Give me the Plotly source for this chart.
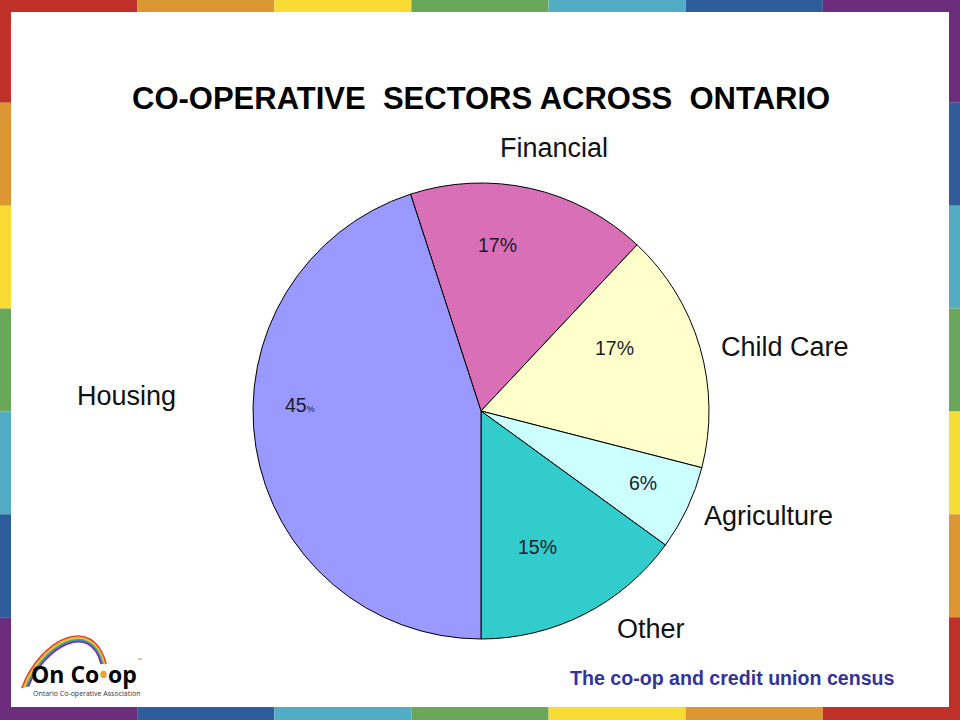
import plotly.graph_objects as go

# ---------------- data ----------------
sectors = ["Financial", "Child Care", "Agriculture", "Other", "Housing"]
shares = [17, 17, 6, 15, 45]
pct_labels = ["17%", "17%", "6%", "15%", "45<span style='font-size:9px'>%</span>"]
slice_colors = ["#D970B7", "#FFFFCC", "#CCFFFF", "#33CCCC", "#9999FF"]

title_text = "CO-OPERATIVE\u00a0\u00a0SECTORS ACROSS\u00a0\u00a0ONTARIO"
footer_text = "The co-op and credit union census"

# label positions in pixels (x, y) for outer names and inside percentages
name_pos = [(554, 148), (785, 347), (768, 516), (651, 629), (126, 396)]
pct_pos = [(497, 245), (614, 348), (643, 483), (537, 547), (300, 405)]

W, H = 960, 720
def px(x):
    return x / W
def py(y):
    return 1 - y / H

fig = go.Figure()

# pie centre (481, 411), radius 228
cx, cy, r = 481, 411, 228
fig.add_trace(go.Pie(
    labels=sectors, values=shares, sort=False, direction="clockwise",
    rotation=-18, textinfo="none", hoverinfo="label+percent",
    marker=dict(colors=slice_colors, line=dict(color="#000000", width=1)),
    domain=dict(x=[px(cx - r), px(cx + r)], y=[py(cy + r), py(cy - r)]),
    showlegend=False,
))

annotations = []
font_family = "Liberation Sans, Arial, sans-serif"

def ann(text, x, y, size, color, family=font_family):
    return dict(text=text, x=px(x), y=py(y), xref="paper", yref="paper",
                showarrow=False, xanchor="center", yanchor="middle",
                font=dict(family=family, size=size, color=color))

annotations.append(ann("<b>" + title_text + "</b>", 481, 99, 31, "#000000"))
for name, (x, y) in zip(sectors, name_pos):
    annotations.append(ann(name, x, y, 27, "#111111"))
for lab, (x, y) in zip(pct_labels, pct_pos):
    annotations.append(ann(lab, x, y, 19.5, "#1A1A2A"))
annotations.append(ann("<b>" + footer_text + "</b>", 732, 678, 19.6, "#333399"))
# logo text
annotations.append(ann("<b>On Co<span style='color:#E8A33D'>\u2022</span>op</b>",
                       84, 674, 23, "#000000", "Open Sans, sans-serif"))
annotations.append(ann("Ontario Co-operative Association", 86, 693, 7, "#333333",
                       "Open Sans, sans-serif"))
annotations.append(ann("\u2122", 140, 660, 5, "#666666", "Open Sans, sans-serif"))

# ---------------- border ----------------
rainbow = ["#C0302A", "#DC9633", "#F8DC33", "#6BA75A", "#52ACC3", "#2F5C9A", "#6B2D7C"]
shapes = []
n = 7
segw, segh = W / n, H / n
for i in range(n):
    # top
    shapes.append(dict(type="rect", xref="paper", yref="paper", line=dict(width=0),
                       x0=px(i * segw), x1=px((i + 1) * segw), y0=py(12), y1=py(0),
                       fillcolor=rainbow[i]))
    # bottom
    shapes.append(dict(type="rect", xref="paper", yref="paper", line=dict(width=0),
                       x0=px(i * segw), x1=px((i + 1) * segw), y0=py(720), y1=py(707),
                       fillcolor=rainbow[n - 1 - i]))
    # left
    shapes.append(dict(type="rect", xref="paper", yref="paper", line=dict(width=0),
                       x0=px(0), x1=px(11), y0=py((i + 1) * segh), y1=py(i * segh),
                       fillcolor=rainbow[i]))
    # right
    shapes.append(dict(type="rect", xref="paper", yref="paper", line=dict(width=0),
                       x0=px(949), x1=px(960), y0=py((i + 1) * segh), y1=py(i * segh),
                       fillcolor=rainbow[n - 1 - i]))

# logo rainbow arc
arc_cols = ["#D8342B", "#EE8A2E", "#F6D43A", "#6DB54F", "#3A8FD0", "#7B3A96"]
for k, col in enumerate(arc_cols):
    d = k * 1.6
    p0 = (22 + d * 0.8, 688 - d * 0.2)
    c1 = (40 + d * 0.5, 640 + d)
    c2 = (92 - d * 0.3, 612 + d)
    p1 = (106 - d * 0.6, 664)
    path = "M {} {} C {} {}, {} {}, {} {}".format(
        px(p0[0]), py(p0[1]), px(c1[0]), py(c1[1]), px(c2[0]), py(c2[1]), px(p1[0]), py(p1[1]))
    shapes.append(dict(type="path", xref="paper", yref="paper", path=path,
                       line=dict(color=col, width=1.8)))

fig.update_layout(
    width=W, height=H, margin=dict(l=0, r=0, t=0, b=0),
    paper_bgcolor="#FFFFFF", plot_bgcolor="#FFFFFF",
    annotations=annotations, shapes=shapes,
)

fig.write_html("out.html", config={"displayModeBar": False},
               post_script="document.body.style.margin='0';document.body.style.padding='0';")
